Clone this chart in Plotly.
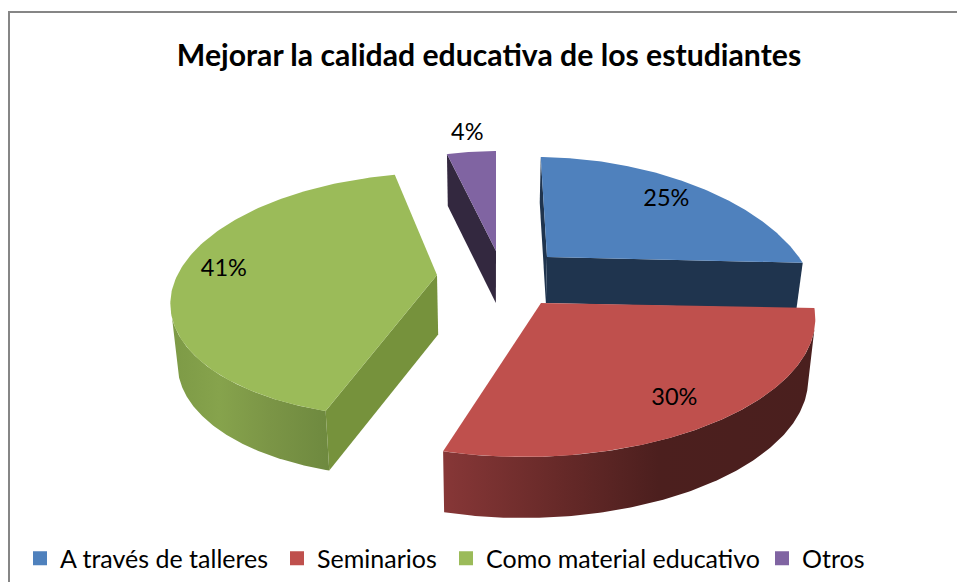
import numpy as np
import plotly.graph_objects as go

# ---- data ----
categories = ["A través de talleres", "Seminarios", "Como material educativo", "Otros"]
values = [25, 30, 41, 4]
title_text = "Mejorar la calidad educativa de los estudiantes"

# ---- styles ----
top_colors = ["#4f81bd", "#bf504d", "#9bbb59", "#8064a2"]
cut_colors = ["#1f344e", "#4a1f1e", "#76923c", "#33283f"]
wall_scales = {
    1: [[0, "#873737"], [0.3, "#682a29"], [0.58, "#4c1f1e"], [1, "#4a1f1e"]],
    2: [[0, "#7d9a46"], [0.3, "#86a34c"], [0.62, "#7b9546"], [1, "#6e893f"]],
}
FONT = "Lato, 'Open Sans', sans-serif"
legend_left = [20, 277, 446, 762]

# Each slice's view: apex, ellipse centre/radii/shear, how its angular span
# lands on that ellipse (skew of the 3D view), wall depth and wall shrink.
geo = [
    dict(ax=547, ay=257, cx=575, cy=285, rx=238, ry=128, q=0.30, p0=1, p1=80, d=46, f=0.98),
    dict(ax=541, ay=303, cx=537, cy=325, rx=278, ry=132, q=-0.10, p0=82.6, p1=197, d=61, f=0.978),
    dict(ax=437, ay=275, cx=420, cy=295, rx=249, ry=122, q=-0.15, p0=198, p1=350, d=59.5, f=0.978),
    dict(ax=496, ay=251, cx=496, cy=251, rx=200, ry=100, q=0.0, p0=345.8, p1=360, d=52, f=0.98),
]
wall_span = {1: (92, 197), 2: (198, 259)}
label_offset = [(-34, 12), (-32, -27), (51, -16), (-4, -18)]
VX = 490


def project(g, phi):
    th = np.radians(phi)
    y = g["cy"] - g["ry"] * np.cos(th)
    x = g["cx"] + g["rx"] * np.sin(th) + g["q"] * (y - g["cy"])
    return x, y


def lower(g, x, y):
    return VX + (np.asarray(x) - VX) * g["f"], np.asarray(y) + g["d"]


def poly(x, y, color=None, gradient=None):
    kw = dict(x=list(x), y=list(y), mode="lines", fill="toself", line=dict(width=0),
              hoverinfo="skip", showlegend=False)
    if gradient is not None:
        kw["fillgradient"] = dict(type="horizontal", colorscale=gradient)
    else:
        kw["fillcolor"] = color
    return go.Scatter(**kw)


edges = 360 * np.cumsum([0] + values) / sum(values)


def to_view(i, deg):
    """Map a pie angle taken from the values onto the slice's view ellipse."""
    g = geo[i]
    return g["p0"] + (deg - edges[i]) * (g["p1"] - g["p0"]) / (edges[i + 1] - edges[i])


def cut_wall(i, deg):
    g = geo[i]
    px, py = project(g, to_view(i, deg))
    ax, ay = g["ax"], g["ay"]
    bx, by = lower(g, [px, ax], [py, ay])
    return poly([ax, px, bx[0], bx[1], ax], [ay, py, by[0], by[1], ay], color=cut_colors[i])


def top_face(i):
    g = geo[i]
    x, y = project(g, to_view(i, np.linspace(edges[i], edges[i + 1], 160)))
    return poly([g["ax"], *x, g["ax"]], [g["ay"], *y, g["ay"]], color=top_colors[i])


def outer_wall(i):
    g = geo[i]
    a, b = wall_span[i]
    x, y = project(g, np.linspace(a, b, 140))
    lx, ly = lower(g, x, y)
    return poly([*x, *lx[::-1], x[0]], [*y, *ly[::-1], y[0]], gradient=wall_scales[i])


fig = go.Figure()
# back to front
fig.add_trace(cut_wall(3, edges[3]))
fig.add_trace(top_face(3))
fig.add_trace(cut_wall(0, edges[0]))
fig.add_trace(cut_wall(0, edges[1]))
fig.add_trace(top_face(0))
fig.add_trace(outer_wall(2))
fig.add_trace(cut_wall(2, edges[2]))
fig.add_trace(top_face(2))
fig.add_trace(outer_wall(1))
fig.add_trace(top_face(1))

# percentage labels
lx, ly, lt = [], [], []
for i, v in enumerate(values):
    x, y = project(geo[i], to_view(i, (edges[i] + edges[i + 1]) / 2))
    lx.append(x + label_offset[i][0])
    ly.append(y + label_offset[i][1])
    lt.append(f"{round(100 * v / sum(values))}%")
fig.add_trace(go.Scatter(x=lx, y=ly, text=lt, mode="text", textposition="middle center",
                         textfont=dict(family=FONT, size=23.5, color="#000000"),
                         hoverinfo="skip", showlegend=False))

# legend entries, one placed legend for each category
legends = {}
for i, (name, color) in enumerate(zip(categories, top_colors)):
    key = "legend" if i == 0 else f"legend{i + 1}"
    fig.add_trace(go.Scatter(x=[None], y=[None], mode="markers", name=name, legend=key,
                             marker=dict(symbol="square", size=14, color=color)))
    legends[key] = dict(orientation="h", x=legend_left[i] / 957, xanchor="left",
                        y=1 - 558.5 / 582, yanchor="middle",
                        font=dict(family=FONT, size=25, color="#000000"),
                        bgcolor="rgba(0,0,0,0)")

fig.update_layout(
    width=957, height=582, margin=dict(l=0, r=0, t=0, b=0),
    paper_bgcolor="#ffffff", plot_bgcolor="#ffffff",
    xaxis=dict(range=[0, 957], visible=False, fixedrange=True),
    yaxis=dict(range=[582, 0], visible=False, fixedrange=True),
    title=dict(text=f"<b>{title_text}</b>", x=489 / 957, xanchor="center",
               y=1 - 55 / 582, yanchor="middle",
               font=dict(family=FONT, size=30.2, color="#000000")),
    shapes=[
        dict(type="rect", xref="x", yref="y", x0=9, y0=12, x1=975, y1=600,
             line=dict(color="#868686", width=2), layer="below"),
    ],
    **legends,
)
fig.write_html("out.html", config=dict(displayModeBar=False),
               post_script="document.body.style.margin='0';document.body.style.overflow='hidden';")
